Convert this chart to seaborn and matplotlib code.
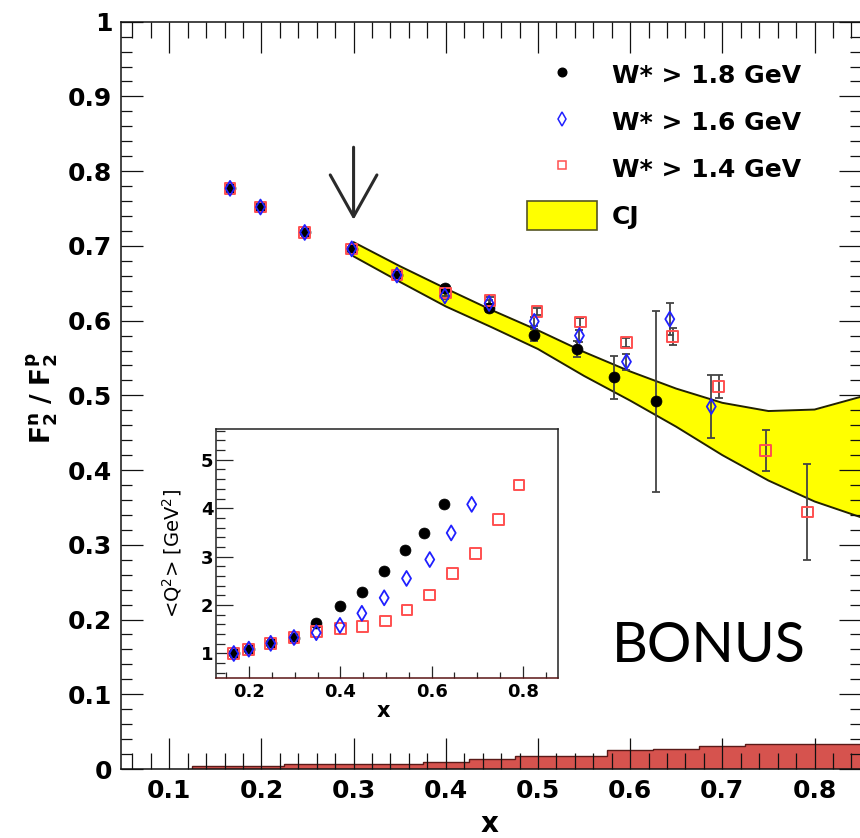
import numpy as np
import matplotlib
matplotlib.use("Agg")
import matplotlib.pyplot as plt
import seaborn as sns
from matplotlib.lines import Line2D
from matplotlib.patches import Patch
from matplotlib.ticker import MultipleLocator, FixedLocator, FuncFormatter

# ---------------- data ----------------
labels = ["W* > 1.8 GeV", "W* > 1.6 GeV", "W* > 1.4 GeV", "CJ"]

x_18 = [0.166, 0.199, 0.247, 0.298, 0.347, 0.399, 0.447, 0.496, 0.542, 0.583, 0.628]
r_18 = [0.777, 0.752, 0.718, 0.696, 0.661, 0.643, 0.617, 0.581, 0.562, 0.524, 0.492]
e_18 = [0.003, 0.003, 0.003, 0.003, 0.004, 0.004, 0.005, 0.008, 0.011, 0.029, 0.121]
q_18 = [1.00, 1.09, 1.21, 1.33, 1.62, 1.98, 2.28, 2.70, 3.14, 3.48, 4.08]

x_16 = [0.166, 0.199, 0.247, 0.298, 0.347, 0.399, 0.447, 0.496, 0.545, 0.596, 0.643, 0.688]
r_16 = [0.777, 0.752, 0.718, 0.696, 0.661, 0.633, 0.623, 0.599, 0.580, 0.545, 0.602, 0.485]
e_16 = [0.003, 0.003, 0.003, 0.003, 0.004, 0.004, 0.005, 0.006, 0.008, 0.011, 0.021, 0.042]
q_16 = [1.00, 1.09, 1.21, 1.33, 1.43, 1.58, 1.83, 2.15, 2.55, 2.94, 3.49, 4.08]

x_14 = [0.166, 0.199, 0.247, 0.298, 0.347, 0.400, 0.448, 0.499, 0.546, 0.596, 0.646, 0.696, 0.747, 0.792]
r_14 = [0.777, 0.752, 0.718, 0.696, 0.661, 0.637, 0.627, 0.612, 0.598, 0.571, 0.579, 0.512, 0.426, 0.344]
e_14 = [0.003, 0.003, 0.003, 0.003, 0.004, 0.004, 0.005, 0.005, 0.006, 0.006, 0.011, 0.015, 0.027, 0.064]
q_14 = [1.00, 1.09, 1.21, 1.33, 1.45, 1.52, 1.56, 1.67, 1.90, 2.21, 2.65, 3.06, 3.77, 4.48]

cj_x = [0.30, 0.35, 0.40, 0.45, 0.50, 0.55, 0.60, 0.65, 0.70, 0.75, 0.80, 0.85]
cj_hi = [0.705, 0.673, 0.643, 0.614, 0.587, 0.558, 0.532, 0.509, 0.490, 0.479, 0.481, 0.498]
cj_lo = [0.686, 0.652, 0.619, 0.591, 0.562, 0.526, 0.493, 0.458, 0.420, 0.386, 0.358, 0.337]

hist_edges = [0.125, 0.175, 0.225, 0.275, 0.325, 0.375, 0.425, 0.475, 0.525,
              0.575, 0.625, 0.675, 0.725, 0.775, 0.825, 0.875]
hist_vals = [0.0045, 0.0045, 0.0071, 0.0071, 0.0071, 0.0094, 0.0135, 0.0169,
             0.0169, 0.0258, 0.0271, 0.0311, 0.0338, 0.0338, 0.0338]

arrow_x = 0.3
arrow_y = [0.832, 0.735]

# ---------------- style ----------------
sns.set_theme(style="ticks")
plt.rcParams["font.family"] = ["DejaVu Sans"]
plt.rcParams["mathtext.fontset"] = "dejavusans"
plt.rcParams["axes.linewidth"] = 1.1

BLACK = "#000000"
BLUE = "#2020ff"
RED = "#ff5050"

W, H = 860, 838
fig = plt.figure(figsize=(W / 100, H / 100), dpi=100)

def fx(px):
    return px / W

def fy(py):
    return 1 - py / H

# main axes
ax = fig.add_axes([fx(120.7), fy(769), (861 - 120.7) / W, (769 - 21.7) / H])
ax.set_xlim(0.0474, 0.8504)
ax.set_ylim(0, 1)
ax.set_axisbelow(False)

# histogram at bottom
ax.stairs(hist_vals, hist_edges, fill=True, color="#d6534e", zorder=1)
ax.stairs(hist_vals, hist_edges, fill=False, color="#5a1a18", linewidth=1.0, zorder=1.1)

# CJ band
ax.fill_between(cj_x, cj_lo, cj_hi, color="#ffff00", linewidth=0, zorder=2)
ax.plot(cj_x, cj_hi, color="#222200", linewidth=1.4, zorder=2.1)
ax.plot(cj_x, cj_lo, color="#222200", linewidth=1.4, zorder=2.1)

# error bars
err_kw = dict(fmt="none", ecolor="#444444", elinewidth=1.3, capsize=3, capthick=1.3, zorder=3)
ax.errorbar(x_18, r_18, yerr=e_18, **err_kw)
ax.errorbar(x_16, r_16, yerr=e_16, **err_kw)
ax.errorbar(x_14, r_14, yerr=e_14, **err_kw)

# points
MS_O, MS_S, MS_D = 62, 60, 58
sns.scatterplot(x=x_18, y=r_18, ax=ax, marker="o", s=MS_O, color=BLACK,
                edgecolor=BLACK, linewidth=0.5, zorder=4, legend=False)
sns.scatterplot(x=x_14, y=r_14, ax=ax, marker="s", s=MS_S, facecolor="none",
                edgecolor=RED, linewidth=1.4, zorder=5, legend=False)
sns.scatterplot(x=x_16, y=r_16, ax=ax, marker="d", s=MS_D, facecolor="none",
                edgecolor=BLUE, linewidth=1.3, zorder=6, legend=False)

# arrow
ax.annotate("", xy=(arrow_x, arrow_y[1]), xytext=(arrow_x, arrow_y[0]),
            arrowprops=dict(arrowstyle="->,head_length=2.5,head_width=1.4",
                            color="#2a2a2a", lw=2.2, shrinkA=0, shrinkB=0),
            zorder=7)

# ticks
ax.xaxis.set_major_locator(FixedLocator([0.1, 0.2, 0.3, 0.4, 0.5, 0.6, 0.7, 0.8]))
ax.xaxis.set_minor_locator(MultipleLocator(0.02))
ax.yaxis.set_major_locator(MultipleLocator(0.1))
ax.yaxis.set_minor_locator(MultipleLocator(0.02))
ax.xaxis.set_major_formatter(FuncFormatter(lambda v, p: f"{v:.1f}"))

def yfmt(v, p):
    if abs(v) < 1e-9:
        return "0"
    if abs(v - 1) < 1e-9:
        return "1"
    return f"{v:.1f}"

ax.yaxis.set_major_formatter(FuncFormatter(yfmt))
ax.tick_params(axis="x", which="major", direction="in", length=22, width=0.9,
               top=True, bottom=True, pad=7, labelsize=18, color="#111111")
ax.tick_params(axis="x", which="minor", direction="in", length=11.5, width=0.9,
               top=True, bottom=True, color="#111111")
ax.tick_params(axis="y", which="major", direction="in", length=15.5, width=0.9,
               left=True, right=True, pad=6, labelsize=18, color="#111111")
ax.tick_params(axis="y", which="minor", direction="in", length=8, width=0.9,
               left=True, right=True, color="#111111")
for lab in ax.get_xticklabels() + ax.get_yticklabels():
    lab.set_fontweight("bold")
    lab.set_color("#000000")
for sp in ax.spines.values():
    sp.set_color("#111111")
    sp.set_linewidth(1.1)

# legend
handles = [
    Line2D([], [], linestyle="none", marker="o", markersize=6.2, color=BLACK),
    Line2D([], [], linestyle="none", marker="d", markersize=7.0, markerfacecolor="none",
           markeredgecolor=BLUE, markeredgewidth=1.1),
    Line2D([], [], linestyle="none", marker="s", markersize=6.2, markerfacecolor="none",
           markeredgecolor=RED, markeredgewidth=1.1),
    Patch(facecolor="#ffff00", edgecolor="#555522", linewidth=1.2),
]
leg = ax.legend(handles, labels, loc="upper left",
                bbox_to_anchor=((527.3 - 120.7) / 740.3, (769 - 60.3) / 747.3),
                frameon=False, borderpad=0, borderaxespad=0,
                handlelength=2.78, handleheight=1.44, handletextpad=0.6,
                labelspacing=0.69, prop={"size": 18, "weight": "bold"})
for t in leg.get_texts():
    t.set_color("#000000")

# axis labels (main)
fig.text(fx(42), fy(398), r"$\mathbf{F_2^n\ /\ F_2^p}$", rotation=90,
         ha="center", va="center", fontsize=19, color="#000000")
fig.text(fx(490), fy(824), "x", ha="center", va="center", fontsize=20,
         fontweight="bold", color="#000000")

# BONUS
fig.text(fx(709), fy(662), "BONUS", ha="center", va="baseline", fontsize=40,
         family=["Lato", "DejaVu Sans"], color="#000000")

# ---------------- inset ----------------
axi = fig.add_axes([fx(216), fy(677.7), (558.3 - 216) / W, (677.7 - 429.3) / H])
axi.set_facecolor("white")
axi.set_xlim(0.127, 0.878)
axi.set_ylim(0.5, 5.63)
sns.scatterplot(x=x_18, y=q_18, ax=axi, marker="o", s=MS_O, color=BLACK,
                edgecolor=BLACK, linewidth=0.5, zorder=4, legend=False)
sns.scatterplot(x=x_14, y=q_14, ax=axi, marker="s", s=MS_S, facecolor="none",
                edgecolor=RED, linewidth=1.4, zorder=5, legend=False)
sns.scatterplot(x=x_16, y=q_16, ax=axi, marker="d", s=MS_D, facecolor="none",
                edgecolor=BLUE, linewidth=1.3, zorder=6, legend=False)
axi.xaxis.set_major_locator(FixedLocator([0.2, 0.4, 0.6, 0.8]))
axi.xaxis.set_minor_locator(MultipleLocator(0.05))
axi.yaxis.set_major_locator(MultipleLocator(1))
axi.yaxis.set_minor_locator(MultipleLocator(0.2))
axi.xaxis.set_major_formatter(FuncFormatter(lambda v, p: f"{v:.1f}"))
axi.yaxis.set_major_formatter(FuncFormatter(lambda v, p: f"{v:.0f}"))
axi.tick_params(axis="x", which="major", direction="in", length=9, width=0.9,
                pad=4, labelsize=13, top=False)
axi.tick_params(axis="x", which="minor", direction="in", length=4.5, width=0.9, top=False)
axi.tick_params(axis="y", which="major", direction="in", length=12, width=0.9,
                pad=2, labelsize=13, right=False)
axi.tick_params(axis="y", which="minor", direction="in", length=6.5, width=0.9, right=False)
for lab in axi.get_xticklabels() + axi.get_yticklabels():
    lab.set_fontweight("bold")
    lab.set_color("#000000")
for name, sp in axi.spines.items():
    sp.set_visible(True)
    sp.set_color("#222222")
    sp.set_linewidth(1.1)
axi.spines["bottom"].set_color("#5a1515")

fig.text(fx(383), fy(711), "x", ha="center", va="center", fontsize=15,
         fontweight="bold", color="#000000")
fig.text(fx(172), fy(553), r"<Q$^2$> [GeV$^2$]", rotation=90, ha="center",
         va="center", fontsize=14, color="#000000")

fig.savefig("out.png", dpi=100)
